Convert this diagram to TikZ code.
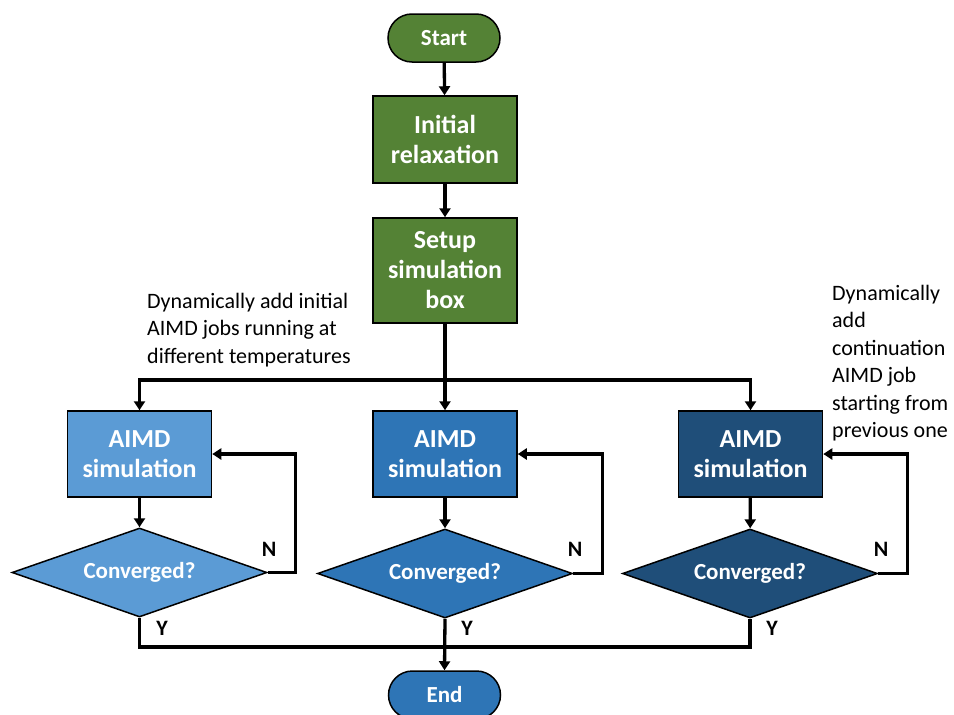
\documentclass[tikz,border=0pt]{standalone}
\usepackage{fontspec}
\setmainfont{Carlito}
\usetikzlibrary{shapes.geometric,arrows.meta}
\definecolor{leafgreen}{HTML}{548235}
\definecolor{skyblue}{HTML}{5B9BD5}
\definecolor{midblue}{HTML}{2E75B6}
\definecolor{deepblue}{HTML}{1F4E79}
\begin{document}
\begin{tikzpicture}[x=1pt,y=-1pt,
  outline/.style={draw=black,line width=1.5pt},
  terminal/.style={outline,rounded corners=24pt,minimum width=112pt,minimum height=48pt,
    inner sep=0pt,text=white,font=\fontsize{23}{27}\selectfont\bfseries},
  process/.style={outline,minimum width=144pt,inner sep=0pt,align=center,text=white,
    font=\fontsize{26}{30}\selectfont\bfseries},
  decision/.style={outline,diamond,aspect=2.87,minimum width=255pt,minimum height=89pt,inner sep=0pt,
    text=white,font=\fontsize{23}{27}\selectfont\bfseries},
  flow/.style={line width=3.3pt,-{Triangle[length=9pt,width=11pt]}},
  wire/.style={line width=3.3pt},
  yn/.style={inner sep=0pt,font=\fontsize{22}{26}\selectfont\bfseries},
  note/.style={align=left,inner sep=0pt,font=\fontsize{22}{27.5}\selectfont}
]
\useasboundingbox (0,0) rectangle (954,715);

% main column
\node[terminal,fill=leafgreen] (start) at (444,38) {Start};
\node[process,fill=leafgreen,minimum height=87pt] (init) at (445,139.5) {Initial\\relaxation};
\node[process,fill=leafgreen,minimum height=105pt] (setup) at (445,270.5) {Setup\\simulation\\box};

% three AIMD branches
\node[process,fill=skyblue,minimum height=86pt] (sim1) at (139.5,454) {AIMD\\simulation};
\node[process,fill=midblue,minimum height=86pt] (sim2) at (445,454) {AIMD\\simulation};
\node[process,fill=deepblue,minimum height=86pt] (sim3) at (750.5,454) {AIMD\\simulation};

\node[decision,fill=skyblue] (conv1) at (139.5,572.5) {Converged?};
\node[decision,fill=midblue] (conv2) at (445,573.5) {Converged?};
\node[decision,fill=deepblue] (conv3) at (750,573.5) {Converged?};

\node[terminal,fill=midblue] (end) at (444.5,695) {End};

% notes
\node[note,anchor=north west] (noteL) at (147,293) {Dynamically add initial\\AIMD jobs running at\\different temperatures};
\node[note,anchor=north west] (noteR) at (832,285) {Dynamically\\add\\continuation\\AIMD job\\starting from\\previous one};

% connectors
\draw[flow] (start) -- (init);
\draw[flow] (init) -- (setup);
\coordinate (split) at (445,380);
\draw[flow] (setup) -- (sim2);
\draw[flow] (split) -| (sim1.north);
\draw[flow] (split) -| (sim3.north);

\draw[flow] (sim1) -- (conv1);
\draw[flow] (sim2) -- (conv2);
\draw[flow] (sim3) -- (conv3);

\draw[flow] (conv1.east) -- ++(28,0) |- (sim1.east);
\draw[flow] (conv2.east) -- ++(29,0) |- (sim2.east);
\draw[flow] (conv3.east) -- ++(29,0) |- (sim3.east);

\coordinate (merge) at (445,647);
\draw[wire] (conv1.south) |- (merge) -| (conv3.south);
\draw[flow] (conv2.south) -- (end.north);

% branch labels
\node[yn] (n1) at (269,549) {N};
\node[yn] (n2) at (575,549) {N};
\node[yn] (n3) at (881,549) {N};
\node[yn] (y1) at (162,628) {Y};
\node[yn] (y2) at (467,628) {Y};
\node[yn] (y3) at (772,628) {Y};
\end{tikzpicture}
\end{document}
